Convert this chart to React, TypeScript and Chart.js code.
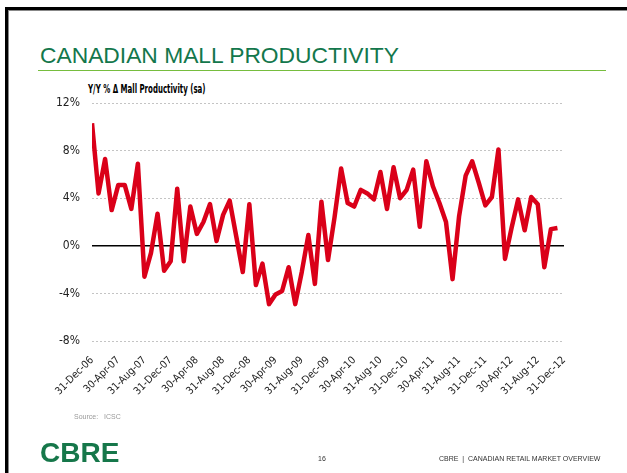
import { useEffect, useRef } from "react";
import { Chart, registerables } from "chart.js";

Chart.register(...registerables);

// X tick labels (one every 4 months, Dec-06 .. Dec-12)
const tickLabels = [
  "31-Dec-06", "30-Apr-07", "31-Aug-07", "31-Dec-07", "30-Apr-08",
  "31-Aug-08", "31-Dec-08", "30-Apr-09", "31-Aug-09", "31-Dec-09",
  "30-Apr-10", "31-Aug-10", "31-Dec-10", "30-Apr-11", "31-Aug-11",
  "31-Dec-11", "30-Apr-12", "31-Aug-12", "31-Dec-12",
];
const monthsPerTick = 4;
const axisMonths = 72;

// Y/Y % change in mall productivity, monthly from Dec-06
const productivity = [
  10.3, 4.4, 7.3, 3.0, 5.1, 5.1, 3.1, 6.9, -2.6, -0.6,
  2.7, -2.1, -1.3, 4.8, -1.3, 3.3, 1.0, 2.0, 3.5, 0.4,
  2.6, 3.8, 0.8, -2.2, 3.5, -3.3, -1.5, -4.9, -4.1, -3.8,
  -1.8, -4.9, -2.2, 0.9, -3.2, 3.7, -1.2, 2.4, 6.5, 3.6,
  3.3, 4.7, 4.4, 3.9, 6.2, 3.1, 6.6, 4.0, 4.7, 6.4,
  1.6, 7.1, 5.0, 3.6, 2.0, -2.8, 2.5, 5.9, 7.1, 5.3,
  3.4, 4.1, 8.1, -1.1, 1.5, 3.9, 1.3, 4.1, 3.5, -1.8,
  1.4, 1.5,
];

const yMin = -8;
const yMax = 12;
const yStep = 4;

const condensedFamily = '"DejaVu Sans", sans-serif';

export default function App() {
  const canvasRef = useRef<HTMLCanvasElement | null>(null);

  useEffect(() => {
    const canvas = canvasRef.current;
    if (!canvas) return;
    const chart = new Chart(canvas, {
      type: "line",
      data: {
        datasets: [
          {
            label: "Y/Y % Δ Mall Productivity (sa)",
            data: productivity.map((v, i) => ({ x: i, y: v })),
            borderColor: "#DA0019",
            borderWidth: 4.5,
            pointRadius: 0,
            tension: 0,
            borderJoinStyle: "round",
            fill: false,
          },
        ],
      },
      options: {
        responsive: false,
        animation: false,
        layout: { padding: { left: 30, right: 63, top: 103, bottom: 72 } },
        plugins: {
          legend: { display: false },
          tooltip: { enabled: false },
          title: { display: false },
        },
        scales: {
          x: {
            type: "linear",
            min: 0,
            max: axisMonths,
            afterFit: (s: any) => {
              s.height = 60;
            },
            grid: { display: false },
            border: { display: false },
            ticks: {
              stepSize: monthsPerTick,
              autoSkip: false,
              minRotation: 45,
              maxRotation: 45,
              padding: 5,
              color: "#222",
              font: { family: condensedFamily, size: 10.5, weight: "condensed" as any },
              callback: (v: any) => {
                const idx = Math.round(Number(v) / monthsPerTick);
                return tickLabels[idx] ?? "";
              },
            },
          },
          y: {
            min: yMin,
            max: yMax,
            afterFit: (s: any) => {
              s.width = 62;
            },
            border: {
              display: false,
              dash: (ctx: any) => (ctx.tick && ctx.tick.value === 0 ? [] : [2, 2]),
            },
            grid: {
              drawTicks: false,
              color: (ctx: any) => (ctx.tick && ctx.tick.value === 0 ? "#000" : "#c4c4c4"),
              lineWidth: (ctx: any) => (ctx.tick && ctx.tick.value === 0 ? 1.5 : 1),
            },
            ticks: {
              stepSize: yStep,
              padding: 12,
              color: "#222",
              font: { family: condensedFamily, size: 12, weight: "condensed" as any },
              callback: (v: any) => `${v}%`,
            },
          },
        },
      },
    });
    return () => chart.destroy();
  }, []);

  return (
    <div
      style={{
        position: "fixed",
        left: 0,
        top: 0,
        width: 627,
        height: 473,
        background: "#fff",
        overflow: "hidden",
        fontFamily: '"Liberation Sans", Arial, sans-serif',
      }}
    >
      <div
        style={{
          position: "absolute",
          left: 5,
          top: 7,
          width: 700,
          height: 600,
          borderTop: "3px solid #000",
          borderLeft: "3px solid #000",
          boxShadow: "inset 1px 1px 0 #888",
        }}
      />
      <div
        style={{
          position: "absolute",
          left: 40,
          top: 44,
          fontSize: 22.8,
          lineHeight: "23px",
          color: "#13774C",
          whiteSpace: "nowrap",
        }}
      >
        CANADIAN MALL PRODUCTIVITY
      </div>
      <div
        style={{
          position: "absolute",
          left: 38,
          top: 69.5,
          width: 568,
          height: 1.5,
          background: "#76BD3E",
        }}
      />
      <div
        style={{
          position: "absolute",
          left: 88,
          top: 82,
          fontSize: 13,
          lineHeight: "14px",
          fontWeight: "bold",
          fontFamily: condensedFamily,
          fontStretch: "condensed",
          color: "#000",
          whiteSpace: "nowrap",
          transform: "scaleX(0.6)",
          transformOrigin: "left top",
        }}
      >
        Y/Y % Δ Mall Productivity (sa)
      </div>
      <canvas
        ref={canvasRef}
        width={627}
        height={473}
        style={{ position: "absolute", left: 0, top: 0, width: 627, height: 473 }}
      />
      <div
        style={{
          position: "absolute",
          left: 74,
          top: 413,
          fontSize: 7,
          lineHeight: "8px",
          color: "#999",
          whiteSpace: "pre",
        }}
      >
        {"Source:   ICSC"}
      </div>
      <div
        style={{
          position: "absolute",
          left: 40,
          top: 439,
          fontSize: 28,
          lineHeight: "28px",
          fontWeight: "bold",
          color: "#16774A",
          whiteSpace: "nowrap",
        }}
      >
        CBRE
      </div>
      <div
        style={{
          position: "absolute",
          left: 318,
          top: 455,
          fontSize: 7,
          lineHeight: "8px",
          color: "#333",
        }}
      >
        16
      </div>
      <div
        style={{
          position: "absolute",
          left: 439,
          top: 455,
          fontSize: 7,
          lineHeight: "8px",
          color: "#333",
          whiteSpace: "pre",
        }}
      >
        {"CBRE  |  CANADIAN RETAIL MARKET OVERVIEW"}
      </div>
    </div>
  );
}
